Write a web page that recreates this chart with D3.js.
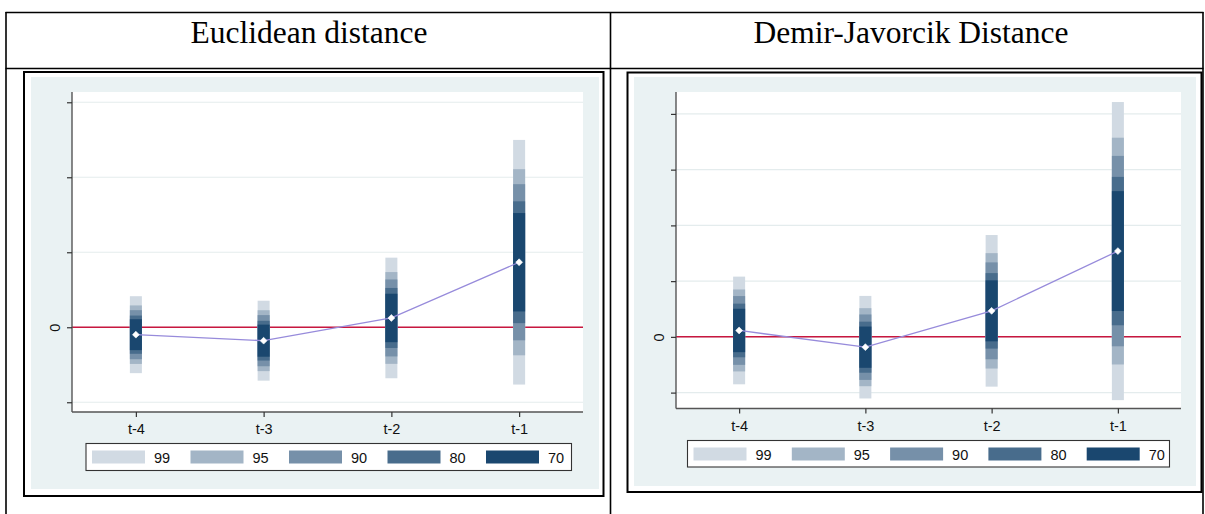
<!DOCTYPE html>
<html>
<head>
<meta charset="utf-8">
<script src="https://cdn.jsdelivr.net/npm/d3@7/dist/d3.min.js"></script>
<style>
  html, body { margin: 0; padding: 0; background: #ffffff; }
  svg { display: block; }
</style>
</head>
<body>
<svg id="chart" width="1205" height="514"></svg>
<script>
// ---- data -------------------------------------------------------------
const periods = ["t-4", "t-3", "t-2", "t-1"];
const ciLevels = ["99", "95", "90", "80", "70"];

// Euclidean distance: point estimates and confidence bounds [low, high]
const euclidCoef = [-0.099, -0.179, 0.124, 0.867];
const euclidCI99 = [[-0.612, 0.414], [-0.712, 0.354], [-0.680, 0.928], [-0.764, 2.498]];
const euclidCI95 = [[-0.489, 0.291], [-0.585, 0.227], [-0.488, 0.736], [-0.374, 2.108]];
const euclidCI90 = [[-0.426, 0.228], [-0.520, 0.162], [-0.389, 0.637], [-0.174, 1.908]];
const euclidCI80 = [[-0.354, 0.156], [-0.444, 0.086], [-0.276, 0.524], [0.055, 1.679]];
const euclidCI70 = [[-0.305, 0.107], [-0.393, 0.035], [-0.199, 0.447], [0.211, 1.523]];
const euclidTicks = [-1, 0, 1, 2, 3];

// Demir-Javorcik distance
const djCoef = [0.115, -0.185, 0.467, 1.539];
const djCI99 = [[-0.851, 1.081], [-1.105, 0.735], [-0.893, 1.827], [-1.135, 4.213]];
const djCI95 = [[-0.620, 0.850], [-0.885, 0.515], [-0.568, 1.502], [-0.495, 3.573]];
const djCI90 = [[-0.502, 0.732], [-0.772, 0.402], [-0.402, 1.336], [-0.169, 3.247]];
const djCI80 = [[-0.366, 0.596], [-0.643, 0.273], [-0.210, 1.144], [0.208, 2.870]];
const djCI70 = [[-0.274, 0.504], [-0.555, 0.185], [-0.080, 1.014], [0.464, 2.614]];
const djTicks = [-1, 0, 1, 2, 3, 4];

// ---- styles -----------------------------------------------------------
const bandColors = {"99": "#d1dae3", "95": "#a3b5c6", "90": "#7690a9", "80": "#486c8c", "70": "#1a476f"};
const regionFill = "#eaf2f3";
const gridColor = "#e4eced";
const zeroColor = "#c8173f";
const pathColor = "#978bdb";
const sansFont = "'Liberation Sans', Arial, sans-serif";
const serifFont = "'Liberation Serif', 'Times New Roman', serif";
const labelSize = 14.5;

const svg = d3.select("#chart");

// ---- table skeleton ---------------------------------------------------
const table = svg.append("g").attr("stroke", "#000").attr("stroke-width", 1.6);
table.append("line").attr("x1", 5.5).attr("x2", 1203.5).attr("y1", 12.5).attr("y2", 12.5);
table.append("line").attr("x1", 5.5).attr("x2", 1203.5).attr("y1", 68.5).attr("y2", 68.5);
table.append("line").attr("x1", 6).attr("x2", 6).attr("y1", 12).attr("y2", 514);
table.append("line").attr("x1", 610.5).attr("x2", 610.5).attr("y1", 12).attr("y2", 514);
table.append("line").attr("x1", 1203).attr("x2", 1203).attr("y1", 12).attr("y2", 514);

svg.append("text").attr("x", 309).attr("y", 43)
  .attr("text-anchor", "middle").attr("font-family", serifFont).attr("font-size", 31.5)
  .text("Euclidean distance");
svg.append("text").attr("x", 911).attr("y", 43)
  .attr("text-anchor", "middle").attr("font-family", serifFont).attr("font-size", 31.5)
  .text("Demir-Javorcik Distance");

// ---- one coefficient panel -------------------------------------------
function drawPanel(cfg) {
  const g = svg.append("g");

  // outer frame and graph region
  g.append("rect").attr("x", cfg.frame[0]).attr("y", cfg.frame[1])
    .attr("width", cfg.frame[2]).attr("height", cfg.frame[3])
    .attr("fill", "#fff").attr("stroke", "#000").attr("stroke-width", 2);
  g.append("rect").attr("x", cfg.region[0]).attr("y", cfg.region[1])
    .attr("width", cfg.region[2]).attr("height", cfg.region[3])
    .attr("fill", regionFill);

  const x = d3.scalePoint().domain(periods).range([cfg.plot.x0, cfg.plot.x1]).padding(0.5);
  const y = d3.scaleLinear().domain(cfg.yDomain).range([cfg.plot.y1, cfg.plot.y0]);

  // plot region
  g.append("rect").attr("x", cfg.plot.x0).attr("y", cfg.plot.y0)
    .attr("width", cfg.plot.x1 - cfg.plot.x0).attr("height", cfg.plot.y1 - cfg.plot.y0)
    .attr("fill", "#fff");

  // horizontal grid
  g.append("g").selectAll("line").data(cfg.ticks).join("line")
    .attr("x1", cfg.plot.x0).attr("x2", cfg.plot.x1)
    .attr("y1", d => y(d)).attr("y2", d => y(d))
    .attr("stroke", gridColor).attr("stroke-width", 1.2);

  // reference line at zero
  g.append("line").attr("x1", cfg.plot.x0).attr("x2", cfg.plot.x1)
    .attr("y1", y(0)).attr("y2", y(0))
    .attr("stroke", zeroColor).attr("stroke-width", 1.5);

  // confidence bands, widest first so narrower ones sit on top
  const barW = 12;
  ciLevels.forEach(lvl => {
    const ci = cfg.ci[lvl];
    g.append("g").selectAll("rect").data(periods).join("rect")
      .attr("x", p => x(p) - barW / 2)
      .attr("width", barW)
      .attr("y", (p, i) => y(ci[i][1]))
      .attr("height", (p, i) => y(ci[i][0]) - y(ci[i][1]))
      .attr("fill", bandColors[lvl]);
  });

  // line joining the point estimates
  const line = d3.line().x((d, i) => x(periods[i])).y(d => y(d));
  g.append("path").datum(cfg.coef).attr("d", line)
    .attr("fill", "none").attr("stroke", pathColor).attr("stroke-width", 1.3);

  // diamond markers
  const diamond = d3.symbol().type(d3.symbolDiamond2).size(30);
  g.append("g").selectAll("path").data(cfg.coef).join("path")
    .attr("transform", (d, i) => `translate(${x(periods[i])},${y(d)})`)
    .attr("d", diamond)
    .attr("fill", "#fff").attr("stroke", "#fff").attr("stroke-width", 0.6);

  // y axis
  const yAxis = d3.axisLeft(y).tickValues(cfg.ticks)
    .tickFormat(d => d === 0 ? "0" : "").tickSize(5).tickPadding(9);
  const ya = g.append("g").attr("transform", `translate(${cfg.plot.x0},0)`).call(yAxis);
  ya.select(".domain").attr("d", `M0,${cfg.plot.y0}V${cfg.plot.y1}`).attr("stroke", "#555").attr("stroke-width", 1.4);
  ya.selectAll(".tick line").attr("stroke", "#333").attr("stroke-width", 1.2);
  ya.selectAll(".tick text")
    .attr("font-family", sansFont).attr("font-size", labelSize).attr("fill", "#111")
    .attr("transform", "rotate(-90)")
    .attr("x", 0).attr("y", -12).attr("dy", "0").attr("text-anchor", "middle");

  // x axis
  const xAxis = d3.axisBottom(x).tickSize(5).tickPadding(7);
  const xa = g.append("g").attr("transform", `translate(0,${cfg.plot.y1})`).call(xAxis);
  xa.select(".domain").attr("d", `M${cfg.plot.x0},0H${cfg.plot.x1}`).attr("stroke", "#555").attr("stroke-width", 1.4);
  xa.selectAll(".tick line").attr("stroke", "#333").attr("stroke-width", 1.2);
  xa.selectAll(".tick text")
    .attr("font-family", sansFont).attr("font-size", labelSize).attr("fill", "#111");

  // legend
  const L = cfg.legend;
  g.append("rect").attr("x", L.x).attr("y", L.y).attr("width", L.w).attr("height", L.h)
    .attr("fill", "#fff").attr("stroke", "#333").attr("stroke-width", 1.1);
  const items = g.append("g").selectAll("g").data(ciLevels).join("g")
    .attr("transform", (d, i) => `translate(${L.x + 6 + i * L.step},${L.y + 7})`);
  items.append("rect").attr("width", 53).attr("height", 13)
    .attr("fill", d => bandColors[d]);
  items.append("text").attr("x", 62).attr("y", 12)
    .attr("font-family", sansFont).attr("font-size", labelSize).attr("fill", "#111")
    .text(d => d);
}

drawPanel({
  frame: [24, 72, 579.5, 424],
  region: [31, 77, 568, 412],
  plot: {x0: 72, x1: 583, y0: 92, y1: 412},
  yDomain: [-1.13, 3.137],
  ticks: euclidTicks,
  coef: euclidCoef,
  ci: {"99": euclidCI99, "95": euclidCI95, "90": euclidCI90, "80": euclidCI80, "70": euclidCI70},
  legend: {x: 86, y: 443.5, w: 485.5, h: 27, step: 98.5}
});

drawPanel({
  frame: [627.5, 72.5, 574, 419.5],
  region: [634, 77, 562, 409],
  plot: {x0: 676, x1: 1181, y0: 92, y1: 408.5},
  yDomain: [-1.285, 4.393],
  ticks: djTicks,
  coef: djCoef,
  ci: {"99": djCI99, "95": djCI95, "90": djCI90, "80": djCI80, "70": djCI70},
  legend: {x: 687.5, y: 440.5, w: 482, h: 26.5, step: 98.3}
});
</script>
</body>
</html>
